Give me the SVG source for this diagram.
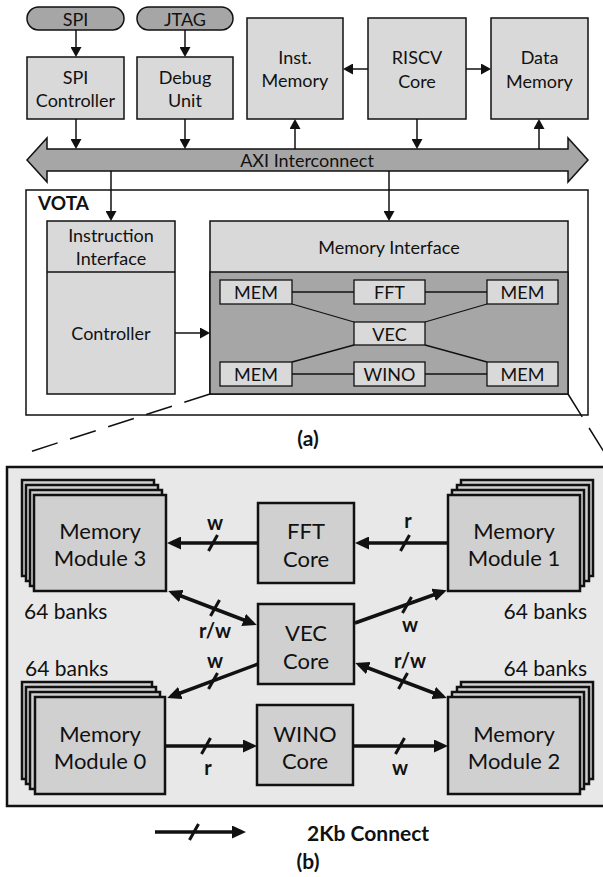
<svg xmlns="http://www.w3.org/2000/svg" xmlns:xlink="http://www.w3.org/1999/xlink" width="603" height="877" viewBox="0 0 603 877">
<style>
text{font-family:Lato,"Liberation Sans",sans-serif;fill:#111;text-anchor:middle;dominant-baseline:central}
.t16{font-size:18px}
.t17{font-size:18px}
.t20{font-size:22px}
.bk{font-size:21px}
.b{font-weight:bold}
.lb{font-size:20px;font-weight:bold}
.box{fill:#d9d9d9;stroke:#111;stroke-width:1.5}
.dk{fill:#a6a6a6;stroke:#111;stroke-width:1.5}
.sm{fill:#d9d9d9;stroke:#111;stroke-width:1.3}
.bb{fill:#d0d0d0;stroke:#111;stroke-width:2.5}
.thin{stroke:#111;stroke-width:1.5;fill:none}
.thk{stroke:#111;stroke-width:3.5;fill:none}
.ln{stroke:#111;stroke-width:1.3;fill:none}
.sl{stroke:#111;stroke-width:3;fill:none}
.dash{stroke:#111;stroke-width:1.5;fill:none;stroke-dasharray:27 13}
</style>
<defs>
<marker id="a" viewBox="0 0 10 11" refX="8" refY="5.5" markerWidth="10" markerHeight="11" markerUnits="userSpaceOnUse" orient="auto-start-reverse"><path d="M0,0 L10,5.5 L0,11 z" fill="#111"/></marker>
<marker id="A" viewBox="0 0 14 13" refX="10" refY="6.5" markerWidth="14" markerHeight="13" markerUnits="userSpaceOnUse" orient="auto-start-reverse"><path d="M0,0 L14,6.5 L0,13 z" fill="#111"/></marker>
<path id="slash" d="M-4.5,8 L4.5,-8"/>
</defs>

<!-- (a) -->
<g id="spi-pin"><rect x="27" y="7" width="97" height="23" rx="11.5" class="dk"/><text x="75.5" y="18.5" class="t16">SPI</text></g>
<g id="jtag-pin"><rect x="137" y="7" width="96" height="23" rx="11.5" class="dk"/><text x="185" y="18.5" class="t16">JTAG</text></g>
<g id="spi-ctrl"><rect x="27" y="57" width="97" height="62" class="box"/><text x="75.5" y="77" class="t16">SPI</text><text x="75.5" y="100" class="t16">Controller</text></g>
<g id="debug"><rect x="137" y="57" width="96" height="62" class="box"/><text x="185" y="77" class="t16">Debug</text><text x="185" y="100" class="t16">Unit</text></g>
<g id="inst-mem"><rect x="247" y="18" width="96" height="101" class="box"/><text x="295" y="57" class="t16">Inst.</text><text x="295" y="80" class="t16">Memory</text></g>
<g id="riscv"><rect x="368" y="18" width="98" height="101" class="box"/><text x="417" y="57" class="t16">RISCV</text><text x="417" y="81" class="t16">Core</text></g>
<g id="data-mem"><rect x="491" y="18" width="97" height="101" class="box"/><text x="539.5" y="57" class="t16">Data</text><text x="539.5" y="81" class="t16">Memory</text></g>
<g id="axi"><polygon points="27,160 47,138 47,149 568,149 568,138 588,160 568,182 568,171 47,171 47,182" class="dk"/><text x="307" y="160" class="t16">AXI Interconnect</text></g>

<g id="vota">
<rect x="26" y="190" width="562" height="225" fill="#fff" stroke="#111" stroke-width="1.5"/>
<text x="38" y="202" class="b" style="font-size:19px;text-anchor:start">VOTA</text>
</g>
<g id="instr-if"><rect x="47" y="221" width="128" height="173" class="box"/><line x1="47" y1="272" x2="175" y2="272" class="thin"/><text x="111" y="235" class="t16">Instruction</text><text x="111" y="258" class="t16">Interface</text><text x="111" y="333" class="t17">Controller</text></g>
<g id="mem-if"><rect x="210" y="221" width="358" height="173" class="box"/><rect x="210" y="272" width="358" height="122" class="dk"/><text x="389" y="247" class="t16">Memory Interface</text></g>

<g id="mini-conn">
<line x1="292" y1="292" x2="354" y2="292" class="ln"/>
<line x1="425" y1="292" x2="487" y2="292" class="ln"/>
<line x1="292" y1="374" x2="354" y2="374" class="ln"/>
<line x1="425" y1="374" x2="487" y2="374" class="ln"/>
<line x1="292" y1="304" x2="354" y2="322" class="ln"/>
<line x1="487" y1="304" x2="425" y2="322" class="ln"/>
<line x1="354" y1="345" x2="292" y2="362" class="ln"/>
<line x1="425" y1="345" x2="487" y2="362" class="ln"/>
</g>
<g id="mem-tl"><rect x="220" y="280" width="72" height="24" class="sm"/><text x="256" y="292" class="t17">MEM</text></g>
<g id="fft-s"><rect x="354" y="280" width="71" height="24" class="sm"/><text x="389.5" y="292" class="t17">FFT</text></g>
<g id="mem-tr"><rect x="487" y="280" width="71" height="24" class="sm"/><text x="522.5" y="292" class="t17">MEM</text></g>
<g id="vec-s"><rect x="354" y="322" width="71" height="23" class="sm"/><text x="389.5" y="333.5" class="t17">VEC</text></g>
<g id="mem-bl"><rect x="220" y="362" width="72" height="24" class="sm"/><text x="256" y="374" class="t17">MEM</text></g>
<g id="wino-s"><rect x="354" y="362" width="71" height="24" class="sm"/><text x="389.5" y="374" class="t17">WINO</text></g>
<g id="mem-br"><rect x="487" y="362" width="71" height="24" class="sm"/><text x="522.5" y="374" class="t17">MEM</text></g>

<g id="connectors-a">
<line x1="76" y1="30" x2="76" y2="55" class="thin" marker-end="url(#a)"/>
<line x1="185" y1="30" x2="185" y2="55" class="thin" marker-end="url(#a)"/>
<line x1="76" y1="119" x2="76" y2="147" class="thin" marker-end="url(#a)"/>
<line x1="185" y1="119" x2="185" y2="147" class="thin" marker-end="url(#a)"/>
<line x1="295" y1="149" x2="295" y2="121" class="thin" marker-end="url(#a)"/>
<line x1="417" y1="119" x2="417" y2="147" class="thin" marker-end="url(#a)"/>
<line x1="539" y1="149" x2="539" y2="121" class="thin" marker-end="url(#a)"/>
<line x1="368" y1="69" x2="345" y2="69" class="thin" marker-end="url(#a)"/>
<line x1="466" y1="69" x2="489" y2="69" class="thin" marker-end="url(#a)"/>
<line x1="111" y1="171" x2="111" y2="219" class="thin" marker-end="url(#a)"/>
<line x1="389" y1="171" x2="389" y2="219" class="thin" marker-end="url(#a)"/>
<line x1="175" y1="333" x2="208" y2="333" class="thin" marker-end="url(#a)"/>
<line x1="210" y1="394" x2="20" y2="455" class="dash"/>
<line x1="568" y1="394" x2="604" y2="452" class="dash"/>
</g>
<text x="308" y="437" class="b" style="font-size:21px">(a)</text>

<!-- (b) -->
<rect x="7" y="467" width="600" height="339" fill="#e8e8e8" stroke="#111" stroke-width="2.5"/>

<g id="mm3">
<rect x="22" y="480" width="132" height="96" class="bb"/><rect x="26" y="485" width="132" height="96" class="bb"/><rect x="30" y="490" width="132" height="96" class="bb"/><rect x="34" y="495" width="132" height="96" class="bb"/>
<text x="100" y="530" class="t20">Memory</text><text x="100" y="557" class="t20">Module 3</text>
</g>
<g id="mm1">
<rect x="461" y="480" width="132" height="96" class="bb"/><rect x="457" y="485" width="132" height="96" class="bb"/><rect x="452" y="490" width="132" height="96" class="bb"/><rect x="448" y="495" width="132" height="96" class="bb"/>
<text x="514" y="530" class="t20">Memory</text><text x="514" y="557" class="t20">Module 1</text>
</g>
<g id="mm0">
<rect x="22" y="682" width="130" height="97" class="bb"/><rect x="26" y="687" width="130" height="97" class="bb"/><rect x="30" y="692" width="130" height="97" class="bb"/><rect x="35" y="697" width="130" height="97" class="bb"/>
<text x="100" y="733" class="t20">Memory</text><text x="100" y="760" class="t20">Module 0</text>
</g>
<g id="mm2">
<rect x="461" y="682" width="132" height="97" class="bb"/><rect x="457" y="687" width="132" height="97" class="bb"/><rect x="452" y="692" width="132" height="97" class="bb"/><rect x="448" y="697" width="132" height="97" class="bb"/>
<text x="514" y="733" class="t20">Memory</text><text x="514" y="760" class="t20">Module 2</text>
</g>
<g id="banks">
<text x="24" y="610" class="bk" style="text-anchor:start">64 banks</text>
<text x="587" y="610" class="bk" style="text-anchor:end">64 banks</text>
<text x="25" y="667" class="bk" style="text-anchor:start">64 banks</text>
<text x="587" y="667" class="bk" style="text-anchor:end">64 banks</text>
</g>
<g id="fft"><rect x="258" y="503" width="96" height="80" class="bb"/><text x="306" y="530" class="t20">FFT</text><text x="306" y="558" class="t20">Core</text></g>
<g id="vec"><rect x="258" y="604" width="96" height="80" class="bb"/><text x="306" y="632" class="t20">VEC</text><text x="306" y="660" class="t20">Core</text></g>
<g id="wino"><rect x="257" y="705" width="96" height="80" class="bb"/><text x="305" y="733" class="t20">WINO</text><text x="305" y="760" class="t20">Core</text></g>

<g id="connectors-b">
<line x1="258" y1="543" x2="171" y2="543" class="thk" marker-end="url(#A)"/>
<line x1="448" y1="543" x2="359" y2="543" class="thk" marker-end="url(#A)"/>
<line x1="172" y1="592.5" x2="253" y2="623.5" class="thk" marker-start="url(#A)" marker-end="url(#A)"/>
<line x1="355" y1="623" x2="443" y2="591.5" class="thk" marker-end="url(#A)"/>
<line x1="258" y1="664" x2="171" y2="696.5" class="thk" marker-end="url(#A)"/>
<line x1="359" y1="664.5" x2="443" y2="696.5" class="thk" marker-start="url(#A)" marker-end="url(#A)"/>
<line x1="165" y1="746" x2="253" y2="746" class="thk" marker-end="url(#A)"/>
<line x1="353" y1="746" x2="444" y2="746" class="thk" marker-end="url(#A)"/>
<g class="sl">
<use xlink:href="#slash" x="213" y="543"/>
<use xlink:href="#slash" x="405" y="543"/>
<use xlink:href="#slash" x="215" y="608"/>
<use xlink:href="#slash" x="407" y="605"/>
<use xlink:href="#slash" x="213" y="681"/>
<use xlink:href="#slash" x="403" y="681"/>
<use xlink:href="#slash" x="206" y="746"/>
<use xlink:href="#slash" x="400" y="746"/>
</g>
</g>
<g id="labels">
<text x="215" y="522" class="lb">w</text>
<text x="408" y="520" class="lb">r</text>
<text x="215" y="630" class="lb">r/w</text>
<text x="410" y="624" class="lb">w</text>
<text x="215" y="660" class="lb">w</text>
<text x="410" y="660" class="lb">r/w</text>
<text x="208" y="767" class="lb">r</text>
<text x="400" y="767" class="lb">w</text>
</g>

<g id="legend">
<line x1="155" y1="832" x2="242" y2="832" class="thk" marker-end="url(#A)"/>
<use xlink:href="#slash" x="194" y="832" class="sl"/>
<text x="307" y="832" class="b" style="font-size:21px;text-anchor:start">2Kb Connect</text>
</g>
<text x="308" y="860" class="b" style="font-size:21px">(b)</text>
</svg>
